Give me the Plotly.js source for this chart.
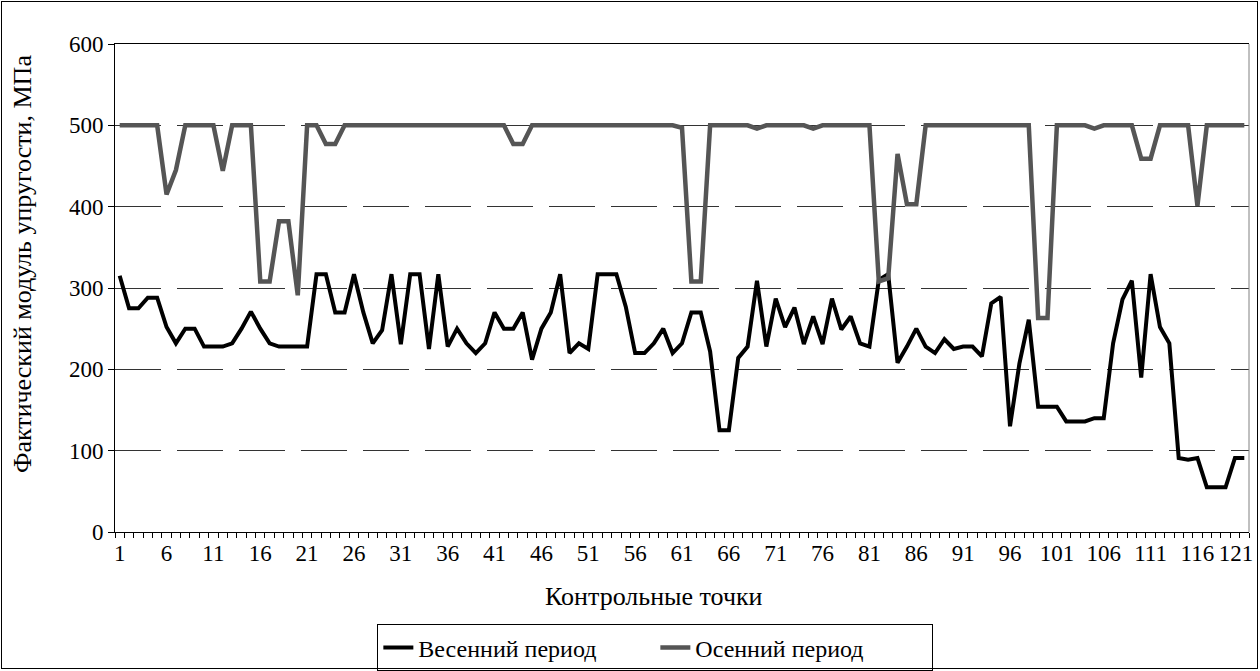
<!DOCTYPE html>
<html>
<head>
<meta charset="utf-8">
<script src="https://cdn.plot.ly/plotly-3.0.1.min.js"></script>
<style>
  html, body { margin: 0; padding: 0; background: #fff; }
  #chart { width: 1260px; height: 671px; }
  #frame { position: absolute; left: 1px; top: 1px; width: 1257px; height: 668px; border: 1px solid #000; box-sizing: border-box; pointer-events: none; }
</style>
</head>
<body>
<div id="chart"></div>
<div id="frame"></div>
<script>
// Весенний период (spring), control points 1..121
const spring = [
  315,275,275,288,288,252,232,250,250,228,
  228,228,232,250,271,250,232,228,228,228,
  228,317,317,270,270,317,270,232,248,317,
  231,317,317,225,317,228,250,232,220,232,
  270,250,250,270,212,250,270,317,220,232,
  225,317,317,317,277,220,220,232,250,220,
  232,270,270,222,125,125,214,228,309,228,
  287,252,276,231,265,231,287,249,265,232,
  228,310,317,208,228,250,228,220,237,225,
  228,228,216,281,289,130,207,261,154,154,
  154,136,136,136,140,140,232,286,309,190,
  317,252,232,91,89,91,55,55,55,91,
  91
];
// Осенний период (autumn)
const autumn = [
  500,500,500,500,500,415,445,500,500,500,
  500,444,500,500,500,308,308,382,382,291,
  500,500,477,477,500,500,500,500,500,500,
  500,500,500,500,500,500,500,500,500,500,
  500,500,477,477,500,500,500,500,500,500,
  500,500,500,500,500,500,500,500,500,500,
  497,308,308,500,500,500,500,500,496,500,
  500,500,500,500,496,500,500,500,500,500,
  500,308,312,465,403,403,500,500,500,500,
  500,500,500,500,500,500,500,500,263,263,
  500,500,500,500,496,500,500,500,500,459,
  459,500,500,500,500,401,500,500,500,500,
  500
];
const tickVals = [1,6,11,16,21,26,31,36,41,46,51,56,61,66,71,76,81,86,91,96,101,106,111,116,121];
const tickText = ['1','6','11','16','21','26','31','36','41','46','51','56','61','66','71','76','81','86','91','96','101','106','111','116','121'];
const seriesNames = ['Весенний период', 'Осенний период'];
const xTitle = 'Контрольные точки';
const yTitle = 'Фактический модуль упругости, МПа';

const points = spring.map((_, i) => i + 1);
// the last label is nudged left so it stays inside the chart, as in the original
const labelPos = tickVals.map((v, i) => (i === tickVals.length - 1 ? v - 0.9 : v));
const FONT = 'Liberation Serif';
const FS_TICK = 23;
const FS_TEXT = 26;

const traces = [
  { x: points, y: spring, type: 'scatter', mode: 'lines', name: seriesNames[0],
    line: { color: '#000000', width: 4 } },
  { x: points, y: autumn, type: 'scatter', mode: 'lines', name: seriesNames[1],
    line: { color: '#555555', width: 4.5 } }
];

const layout = {
  width: 1260, height: 671,
  margin: { l: 115, r: 11, t: 44, b: 139, autoexpand: false },
  paper_bgcolor: '#ffffff', plot_bgcolor: '#ffffff',
  showlegend: true,
  legend: {
    orientation: 'h', x: 0.4765, xanchor: 'center', y: -0.2377, yanchor: 'middle',
    bordercolor: '#000', borderwidth: 1, bgcolor: '#fff',
    font: { family: FONT, size: 24, color: '#000' },
    itemwidth: 30, entrywidth: 232, entrywidthmode: 'pixels', tracegroupgap: 0
  },
  xaxis: {
    range: [0.5, 121.5], showgrid: false, zeroline: false,
    showline: true, linecolor: '#000', linewidth: 1, mirror: true,
    tickmode: 'array', tickvals: labelPos, ticktext: tickText,
    ticks: '', ticklen: 0, ticklabeloverflow: 'allow', ticklabelstandoff: 0,
    minor: { tick0: 0.5, dtick: 1, ticks: 'outside', ticklen: 5, tickcolor: '#000', tickwidth: 1, showgrid: false },
    tickfont: { family: FONT, size: FS_TICK, color: '#000' },
    fixedrange: true
  },
  yaxis: {
    range: [0, 600], dtick: 100, tick0: 0,
    showgrid: true, gridcolor: '#333333', gridwidth: 1, griddash: '46px,16px',
    zeroline: false, showline: true, linecolor: '#000', linewidth: 1, mirror: false,
    ticks: 'outside', ticklen: 6, tickcolor: '#000',
    tickfont: { family: FONT, size: FS_TICK, color: '#000' },
    fixedrange: true
  },
  shapes: [
    { type: 'line', xref: 'paper', yref: 'paper', x0: 1, x1: 1, y0: 0, y1: 1,
      line: { color: '#808080', width: 1 } }
  ],
  annotations: [
    { text: xTitle, xref: 'paper', yref: 'paper', x: 0.475, y: -0.133,
      xanchor: 'center', yanchor: 'middle', showarrow: false,
      font: { family: FONT, size: FS_TEXT, color: '#000' } },
    { text: yTitle, xref: 'paper', yref: 'paper', x: -0.082, y: 0.549,
      xanchor: 'center', yanchor: 'middle', showarrow: false, textangle: -90,
      font: { family: FONT, size: FS_TEXT, color: '#000' } }
  ]
};

Plotly.newPlot('chart', traces, layout, { displayModeBar: false, staticPlot: true });
</script>
</body>
</html>
